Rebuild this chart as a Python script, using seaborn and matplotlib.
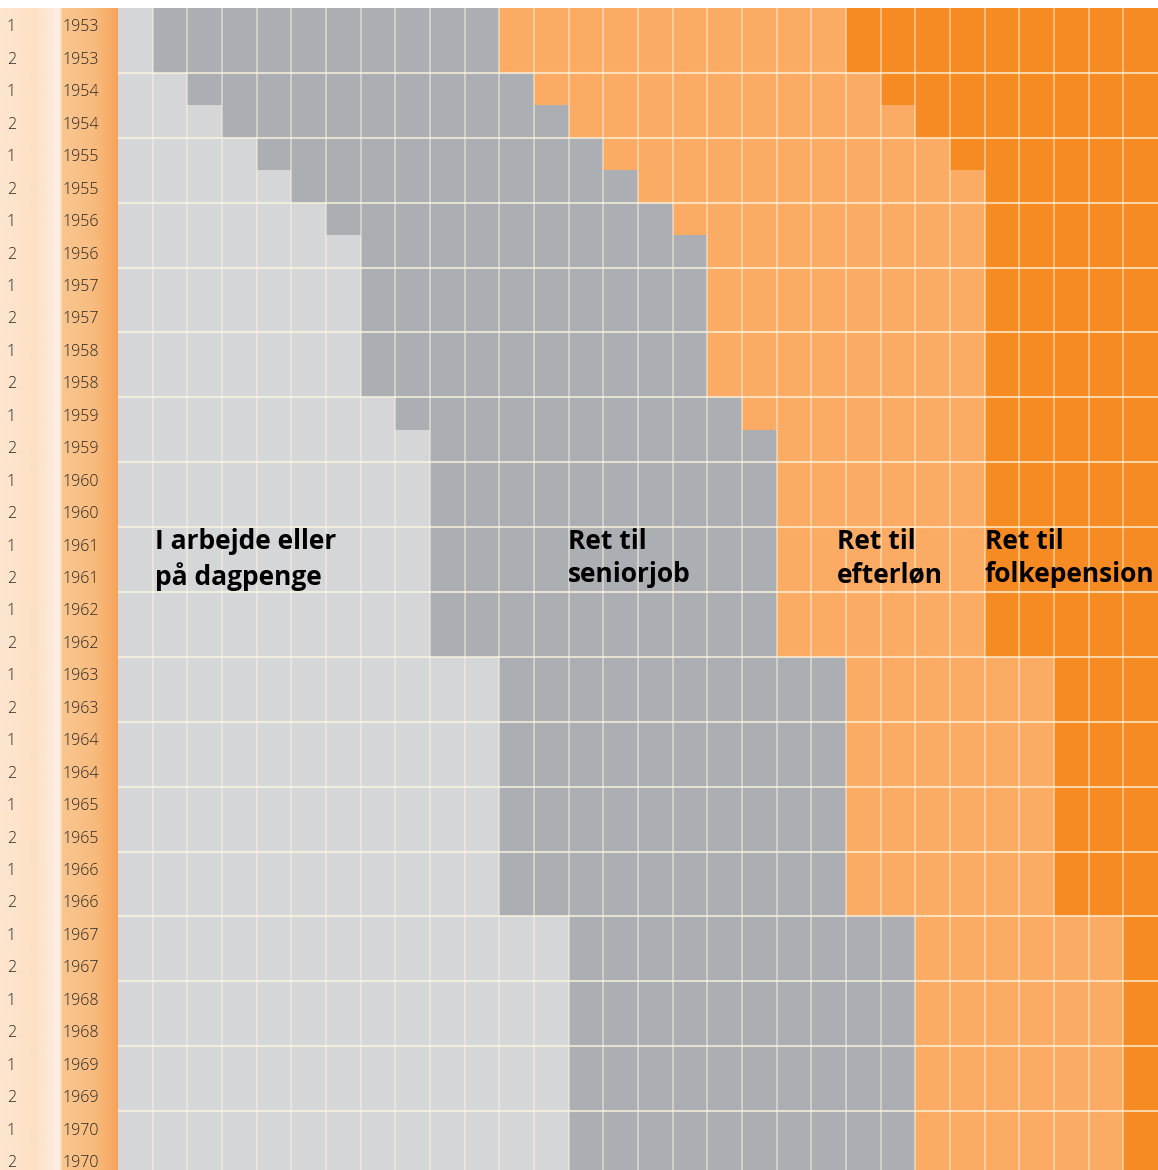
import numpy as np
import pandas as pd
import matplotlib
matplotlib.use("Agg")
import matplotlib.pyplot as plt
import seaborn as sns
from matplotlib.colors import ListedColormap, LinearSegmentedColormap
from matplotlib.transforms import blended_transform_factory

# ---------------- data ----------------
years = [1953, 1953, 1954, 1954, 1955, 1955, 1956, 1956, 1957, 1957,
         1958, 1958, 1959, 1959, 1960, 1960, 1961, 1961, 1962, 1962,
         1963, 1963, 1964, 1964, 1965, 1965, 1966, 1966, 1967, 1967,
         1968, 1968, 1969, 1969, 1970, 1970]
halves = [1, 2] * 18
# first column (period index) in which each right starts, per half-year cohort
seniorjob_start = [1, 1, 2, 3, 4, 5, 6, 7, 7, 7,
                   7, 7, 8, 9, 9, 9, 9, 9, 9, 9,
                   11, 11, 11, 11, 11, 11, 11, 11, 13, 13,
                   13, 13, 13, 13, 13, 13]
efterlon_start = [11, 11, 12, 13, 14, 15, 16, 17, 17, 17,
                  17, 17, 18, 19, 19, 19, 19, 19, 19, 19,
                  21, 21, 21, 21, 21, 21, 21, 21, 23, 23,
                  23, 23, 23, 23, 23, 23]
folkepension_start = [21, 21, 22, 23, 24, 25, 25, 25, 25, 25,
                      25, 25, 25, 25, 25, 25, 25, 25, 25, 25,
                      27, 27, 27, 27, 27, 27, 27, 27, 29, 29,
                      29, 29, 29, 29, 29, 29]
n_periods = 30
stage_labels = ["I arbejde eller\npå dagpenge", "Ret til\nseniorjob",
                "Ret til\nefterløn", "Ret til\nfolkepension"]
stage_colors = ["#d5d6d8", "#abafb3", "#fcab64", "#f58b22"]

# ---------------- build matrix ----------------
periods = np.arange(n_periods)
state = np.array([(periods >= s).astype(int) + (periods >= e) + (periods >= f)
                  for s, e, f in zip(seniorjob_start, efterlon_start, folkepension_start)])
df = pd.DataFrame(state, index=[f"{h} {y}" for h, y in zip(halves, years)],
                  columns=periods)

# ---------------- figure ----------------
W, H = 1158, 1170
fig = plt.figure(figsize=(W / 100, H / 100), dpi=100)
fig.patch.set_facecolor("white")

top_px, bottom_px, left_px = 8, 1176, 118

# left label strips (background gradient)
bg = fig.add_axes([0, (H - bottom_px) / H, left_px / W, (bottom_px - top_px) / H])
strip_cmap = LinearSegmentedColormap.from_list(
    "strip",
    [(0.0, "#fde6cf"), (0.30, "#fde0c4"), (0.40, "#fde8d6"), (0.50, "#fff0e6"),
     (0.53, "#f9c690"), (0.80, "#f8bb7e"), (0.93, "#f7ad68"), (1.0, "#f6a359")])
bg.imshow(np.linspace(0, 1, 236)[None, :], aspect="auto", cmap=strip_cmap,
          extent=[0, 1, 0, 1])
bg.set_axis_off()

ax = fig.add_axes([left_px / W, (H - bottom_px) / H, (W - left_px) / W,
                   (bottom_px - top_px) / H])
sns.heatmap(df, ax=ax, cmap=ListedColormap(stage_colors), vmin=-0.5, vmax=3.5,
            cbar=False, xticklabels=False, yticklabels=False, linewidths=0)
ax.set_xlabel("")
ax.set_ylabel("")

# grid: every period column, every birth-year band
for c in range(1, n_periods):
    ax.axvline(c, color="#fff6e0", lw=1.2, alpha=0.55)
for r in range(2, len(years), 2):
    ax.axhline(r, color="#fff6e0", lw=1.5, alpha=0.7)

# row labels
trans = blended_transform_factory(fig.transFigure, ax.transData)
lab_font = dict(family=["Open Sans", "DejaVu Sans"], fontsize=11.5,
                color="#262626", fontweight="light", va="center", ha="left")
for i, (h, y) in enumerate(zip(halves, years)):
    ax.text(7 / W, i + 0.6, str(h), transform=trans, **lab_font)
    ax.text(62 / W, i + 0.6, str(y), transform=trans, **lab_font)

# stage labels
stage_x = [1.07, 12.98, 20.74, 25.0]
txt_font = dict(family=["Open Sans", "DejaVu Sans"], fontsize=19,
                fontweight="bold", color="#000000", va="top", ha="left",
                linespacing=1.3)
for x, lab in zip(stage_x, stage_labels):
    ax.text(x, 16.03, lab, **txt_font)

fig.savefig("out.png", dpi=100, facecolor="white")
